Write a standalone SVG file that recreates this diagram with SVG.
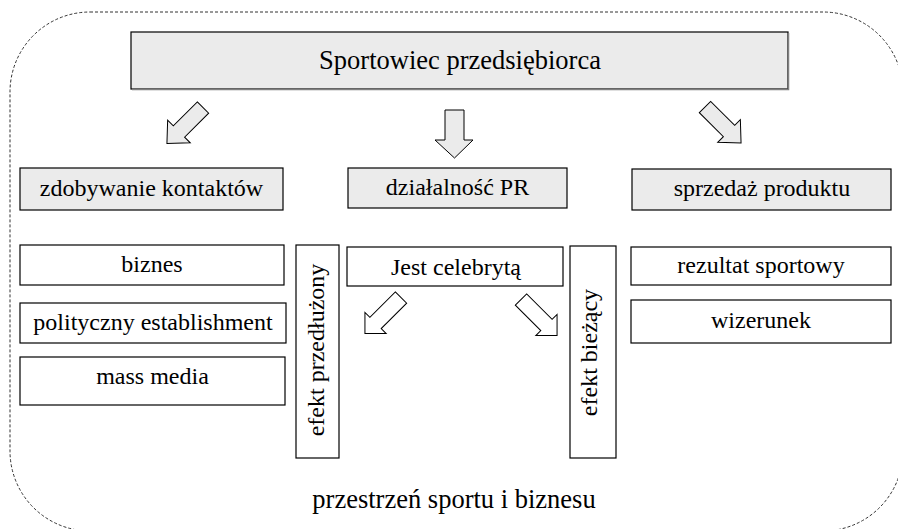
<svg xmlns="http://www.w3.org/2000/svg" width="898" height="529" viewBox="0 0 898 529">
<style>
  .box { fill: #fff; stroke: #000; stroke-width: 1.2; }
  .gbox { fill: #ebebeb; stroke: #000; stroke-width: 1.2; }
  .shadow { fill: none; stroke: #808080; stroke-width: 1.5; }
  .arr { fill: #ebebeb; stroke: #000; stroke-width: 1; }
  .warr { fill: #fff; stroke: #000; stroke-width: 1; }
</style>
<defs>
  <path id="darrow" d="M-8,0 L8,0 L8,34 L16,34 L0,51 L-16,34 L-8,34 Z"/>
  <path id="sarrow" d="M-8,0 L8,0 L8,36 L15,36 L0,51 L-15,36 L-8,36 Z"/>
</defs>
<rect id="space" x="10" y="12" width="893" height="519" rx="80" ry="80" fill="none" stroke="#333" stroke-width="1" stroke-dasharray="3,2"/>
<g id="title">
  <rect class="gbox" x="131" y="32" width="657" height="57"/>
  <polyline class="shadow" points="132,89.5 788.5,89.5 788.5,33"/>
  <text font-family="Times New Roman, Liberation Serif, serif" font-size="26.5" x="460" y="69" text-anchor="middle">Sportowiec przedsiębiorca</text>
</g>
<g id="connectors">
  <use href="#darrow" class="arr" transform="translate(203,107.5) rotate(45)"/>
  <path class="arr" d="M445,110 L464,110 L464,140 L473,140 L454.5,158 L435,140 L445,140 Z"/>
  <use href="#darrow" class="arr" transform="translate(705,107) rotate(-45)"/>
  <use href="#sarrow" class="warr" transform="translate(401,297.5) rotate(45)"/>
  <use href="#sarrow" class="warr" transform="translate(521,299.5) rotate(-45)"/>
</g>
<g id="kontakty">
  <rect class="gbox" x="20" y="168" width="263" height="42"/>
  <text font-family="Times New Roman, Liberation Serif, serif" font-size="24" x="151.5" y="196" text-anchor="middle">zdobywanie kontaktów</text>
</g>
<g id="pr">
  <rect class="gbox" x="348" y="168" width="219" height="40"/>
  <text font-family="Times New Roman, Liberation Serif, serif" font-size="24" x="457.5" y="195" text-anchor="middle">działalność PR</text>
</g>
<g id="sprzedaz">
  <rect class="gbox" x="632" y="169" width="259" height="41"/>
  <text font-family="Times New Roman, Liberation Serif, serif" font-size="24" x="762" y="196" text-anchor="middle">sprzedaż produktu</text>
</g>
<g id="biznes">
  <rect class="box" x="20" y="245" width="264" height="40"/>
  <text font-family="Times New Roman, Liberation Serif, serif" font-size="24" x="152" y="272" text-anchor="middle">biznes</text>
</g>
<g id="polityczny">
  <rect class="box" x="20" y="303" width="266" height="40"/>
  <text font-family="Times New Roman, Liberation Serif, serif" font-size="24" x="153" y="330" text-anchor="middle">polityczny establishment</text>
</g>
<g id="media">
  <rect class="box" x="20" y="357" width="265" height="48"/>
  <text font-family="Times New Roman, Liberation Serif, serif" font-size="24" x="152.5" y="384" text-anchor="middle">mass media</text>
</g>
<g id="przedluzony">
  <rect class="box" x="296" y="245" width="43" height="213"/>
  <text font-family="Times New Roman, Liberation Serif, serif" font-size="24" transform="translate(323.5,350) rotate(-90)" text-anchor="middle">efekt przedłużony</text>
</g>
<g id="celebryta">
  <rect class="box" x="347" y="247" width="216" height="39"/>
  <text font-family="Times New Roman, Liberation Serif, serif" font-size="24" x="456" y="275" text-anchor="middle">Jest celebrytą</text>
</g>
<g id="biezacy">
  <rect class="box" x="570" y="246" width="46" height="212"/>
  <text font-family="Times New Roman, Liberation Serif, serif" font-size="24" transform="translate(597,352.5) rotate(-90)" text-anchor="middle">efekt bieżący</text>
</g>
<g id="rezultat">
  <rect class="box" x="631" y="247" width="260" height="38"/>
  <text font-family="Times New Roman, Liberation Serif, serif" font-size="24" x="761" y="273" text-anchor="middle">rezultat sportowy</text>
</g>
<g id="wizerunek">
  <rect class="box" x="631" y="300" width="260" height="43"/>
  <text font-family="Times New Roman, Liberation Serif, serif" font-size="24" x="761" y="328" text-anchor="middle">wizerunek</text>
</g>
<text id="label" font-family="Times New Roman, Liberation Serif, serif" font-size="26.5" x="454" y="508" text-anchor="middle">przestrzeń sportu i biznesu</text>
</svg>
